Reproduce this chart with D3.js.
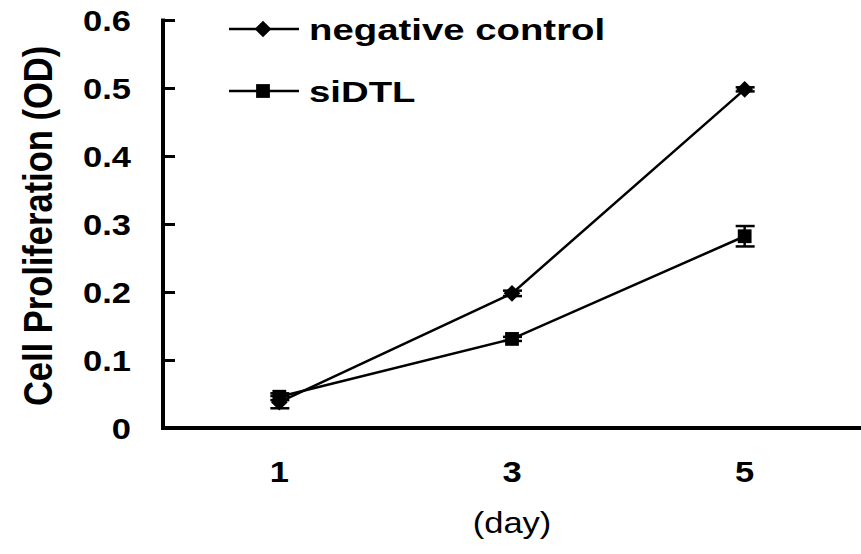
<!DOCTYPE html>
<html><head><meta charset="utf-8">
<script src="https://cdn.jsdelivr.net/npm/d3@7"></script>
<style>html,body{margin:0;padding:0;background:#fff;}svg{display:block;}</style>
</head><body>
<svg id="chart" width="861" height="554"></svg>
<script>
const days = ["1", "3", "5"];
const seriesNames = ["negative control", "siDTL"];
const negValues = [0.038, 0.198, 0.498];
const negErrors = [0.009, 0.004, 0.003];
const siValues = [0.046, 0.131, 0.282];
const siErrors = [0.005, 0.003, 0.015];
const yTicks = [0, 0.1, 0.2, 0.3, 0.4, 0.5, 0.6];
const yTickLabels = ["0", "0.1", "0.2", "0.3", "0.4", "0.5", "0.6"];

const svg = d3.select("#chart");
const FONT = "'Liberation Sans', Arial, sans-serif";
const plotLeft = 163, plotRight = 861, plotTop = 20, plotBottom = 428;

const x = d3.scaleBand().domain(days).range([plotLeft, plotRight]);
const y = d3.scaleLinear().domain([0, 0.6]).range([plotBottom, plotTop]);
const cx = d => x(d) + x.bandwidth() / 2;

// y axis
const yAxis = d3.axisRight(y).tickValues(yTicks).tickSize(12).tickFormat("");
const gy = svg.append("g").attr("transform", `translate(${plotLeft},0)`).call(yAxis);
gy.select(".domain").remove();
gy.selectAll(".tick line").attr("stroke", "#000").attr("stroke-width", 3);
svg.append("line").attr("x1", plotLeft).attr("x2", plotLeft).attr("y1", y(0.6) - 1.5).attr("y2", y(0) + 2)
  .attr("stroke", "#000").attr("stroke-width", 4);
// x axis
svg.append("line").attr("x1", plotLeft - 2).attr("x2", plotRight).attr("y1", y(0)).attr("y2", y(0))
  .attr("stroke", "#000").attr("stroke-width", 4);

// y tick labels
svg.append("g").selectAll("text").data(yTicks).join("text")
  .attr("transform", (d) => `translate(131,${y(d) + 11}) scale(1.15,1)`)
  .attr("text-anchor", "end")
  .attr("font-family", FONT).attr("font-weight", "bold").attr("font-size", 30)
  .text((d, i) => yTickLabels[i]);

// x tick labels
svg.append("g").selectAll("text").data(days).join("text")
  .attr("transform", d => `translate(${cx(d)},${482}) scale(1.15,1)`)
  .attr("text-anchor", "middle")
  .attr("font-family", FONT).attr("font-weight", "bold").attr("font-size", 30)
  .text(d => d);

// x title
svg.append("text").attr("transform", `translate(${cx("3")},${533}) scale(1.15,1)`)
  .attr("text-anchor", "middle").attr("font-family", FONT).attr("font-size", 30)
  .text("(day)");

// y title
svg.append("text").attr("transform", `translate(52,${(46 + 406) / 2}) scale(1.19,1) rotate(-90)`)
  .attr("text-anchor", "middle").attr("font-family", FONT).attr("font-weight", "bold").attr("font-size", 34.5)
  .text("Cell Proliferation (OD)");

const line = d3.line().x((d, i) => cx(days[i])).y(d => y(d));
const series = [
  {name: seriesNames[0], values: negValues, errors: negErrors, sym: d3.symbolSquare, size: 140, rot: 45},
  {name: seriesNames[1], values: siValues, errors: siErrors, sym: d3.symbolSquare, size: 190, rot: 0}
];

series.forEach(s => {
  svg.append("path").attr("d", line(s.values)).attr("fill", "none").attr("stroke", "#000").attr("stroke-width", 2.5);
  const g = svg.append("g");
  s.values.forEach((v, i) => {
    const px = cx(days[i]);
    const e = s.errors[i];
    g.append("line").attr("x1", px).attr("x2", px).attr("y1", y(v - e)).attr("y2", y(v + e)).attr("stroke", "#000").attr("stroke-width", 2.5);
    [v - e, v + e].forEach(w => {
      g.append("line").attr("x1", px - 9).attr("x2", px + 10).attr("y1", y(w)).attr("y2", y(w)).attr("stroke", "#000").attr("stroke-width", 2.5);
    });
    g.append("path").attr("d", d3.symbol().type(s.sym).size(s.size)())
      .attr("transform", `translate(${px},${y(v)}) rotate(${s.rot})`).attr("fill", "#000");
  });
});

// legend
const legY = [29, 91];
series.forEach((s, i) => {
  const g = svg.append("g").attr("transform", `translate(0,${legY[i]})`);
  g.append("line").attr("x1", 229).attr("x2", 299).attr("y1", 0).attr("y2", 0).attr("stroke", "#000").attr("stroke-width", 2.5);
  g.append("path").attr("d", d3.symbol().type(s.sym).size(s.size)()).attr("transform", `translate(263,0) rotate(${s.rot})`).attr("fill", "#000");
  g.append("text").attr("transform", "translate(309,11) scale(1.3,1)")
    .attr("font-family", FONT).attr("font-weight", "bold").attr("font-size", 29.5)
    .text(s.name);
});
</script>
</body></html>
